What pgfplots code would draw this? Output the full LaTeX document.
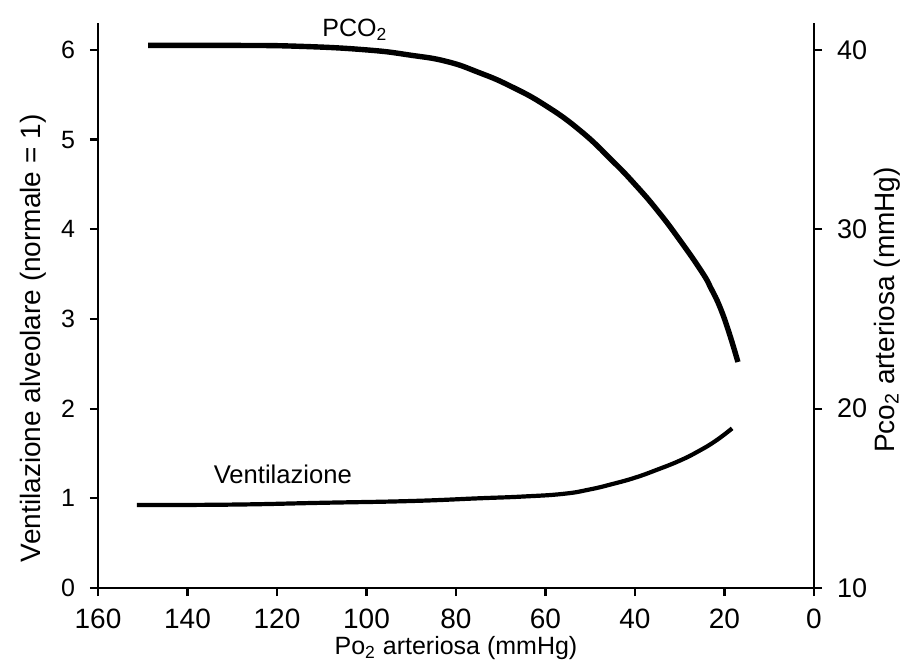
\documentclass[border=0pt]{standalone}
\usepackage{fontspec}
\setmainfont{Liberation Sans}
\usepackage{pgfplots}
\pgfplotsset{compat=1.18}
\begin{document}
\begin{tikzpicture}
\pgfplotsset{
  common/.style={
    width=358pt, height=282.5pt, scale only axis,
    xmin=0, xmax=160, x dir=reverse,
    clip=false,
    /pgf/number format/assume math mode=true,
    axis line style={line width=1.3pt, black},
    tick style={line width=1.1pt, black},
    major tick length=4pt,
    tick align=outside,
  }
}
\begin{axis}[common, name=ax,
  axis x line*=bottom, axis y line*=left,
  ymin=0, ymax=6.3,
  xtick={0,20,...,160}, ytick={0,1,...,6},
  xticklabel style={font=\fontsize{14}{16}\selectfont, anchor=north, yshift=-3pt},
  yticklabel style={font=\fontsize{12.5}{15}\selectfont, anchor=east, xshift=-4pt},
  xlabel={Po\textsubscript{2} arteriosa (mmHg)},
  xlabel style={font=\fontsize{12.5}{15}\selectfont, at={(axis description cs:0.5,-0.106)}, anchor=center},
  ylabel={Ventilazione alveolare (normale = 1)},
  ylabel style={font=\fontsize{14}{16}\selectfont, at={(axis description cs:-0.0908,0.442)}, anchor=center},
]
\addplot[line width=2.1pt, black, smooth, tension=0.8] coordinates {
(151.3,0.925) (130,0.93) (110,0.95) (90,0.97) (75,1.00) (65,1.02)
(56,1.05) (50,1.10) (45,1.16) (40,1.23) (35,1.32) (30,1.42)
(26,1.52) (22,1.64) (18.3,1.78)
};
\node[font=\fontsize{12.8}{15}\selectfont] at (axis cs:118.7,1.27) {Ventilazione};
\node[font=\fontsize{12.5}{15}\selectfont] at (axis cs:102.6,6.22) {PCO\textsubscript{2}};
\end{axis}
\begin{axis}[common,
  axis y line*=right, axis x line=none,
  ymin=10, ymax=41.5,
  ytick={10,20,30,40},
  yticklabel style={font=\fontsize{13.5}{16}\selectfont, anchor=west, xshift=4pt},
  ylabel={Pco\textsubscript{2} arteriosa (mmHg)},
  ylabel style={font=\fontsize{14}{16}\selectfont, at={(axis description cs:1.102,0.492)}, anchor=center},
]
\addplot[line width=2.7pt, black, smooth, tension=0.8] coordinates {
(148.8,40.25) (130,40.25) (115,40.2) (100,40.0) (90,39.7) (82,39.35)
(75,38.75) (68,38.0) (60,36.9) (52,35.45) (45,33.8) (40,32.5)
(35,31.05) (30,29.4) (25,27.6) (23,26.7) (21,25.65) (19,24.25) (17,22.6)
};
\end{axis}
\pgfresetboundingbox
\path ([xshift=-49pt,yshift=-40.5pt]ax.south west) rectangle ([xshift=47pt,yshift=11.5pt]ax.north east);
\end{tikzpicture}
\end{document}
